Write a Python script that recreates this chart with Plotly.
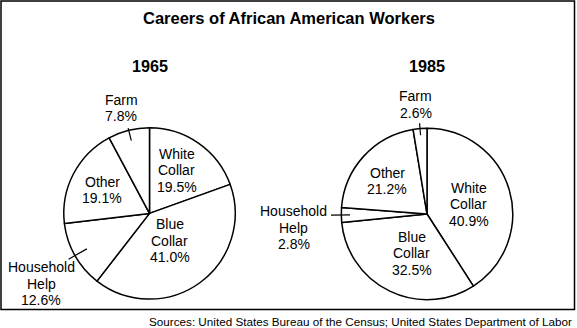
import math
import plotly.graph_objects as go

# ---- data ----
categories = ["White Collar", "Blue Collar", "Household Help", "Other", "Farm"]
label_lines = [["White", "Collar"], ["Blue", "Collar"], ["Household", "Help"], ["Other"], ["Farm"]]
years = ["1965", "1985"]
values_1965 = [19.5, 41.0, 12.6, 19.1, 7.8]
values_1985 = [40.9, 32.5, 2.8, 21.2, 2.6]
title_text = "Careers of African American Workers"
source_text = "Sources: United States Bureau of the Census; United States Department of Labor"

# ---- style / layout ----
W, H = 577, 328
FONT = "Liberation Sans, Arial, Helvetica, sans-serif"
pie_centers = [(149.5, 213.4), (427.0, 214.0)]
R = 85.7
label_dist = [[51, 34, 129, 53, 109], [43, 42, 134, 51.5, 110]]
label_dang = [[-2.8, -1.0, -3.6, -1.2, -1.0], [3.5, -4.5, -5.1, -2.6, -1.2]]
leaders = [[None, None, (93, 72), None, (88, 75)], [None, None, (96, 77), None, (91, 79)]]
LINE_H = 16.5
LABEL_SIZE = 14


def px(x):
    return x / W


def py(y):
    return 1 - y / H


fig = go.Figure()
annotations = []
shapes = []

for i, vals in enumerate([values_1965, values_1985]):
    cx, cy = pie_centers[i]
    fig.add_trace(go.Pie(
        labels=categories, values=vals, sort=False, direction="clockwise", rotation=0,
        textinfo="none", hoverinfo="label+percent", showlegend=False,
        marker=dict(colors=["white"] * len(vals), line=dict(color="black", width=1.5)),
        domain=dict(x=[px(cx - R), px(cx + R)], y=[py(cy + R), py(cy - R)]),
    ))
    # year subtitle
    annotations.append(dict(text="<b>%s</b>" % years[i], x=px(cx), y=py(66.4), xref="paper", yref="paper",
                            showarrow=False, xanchor="center", yanchor="middle",
                            font=dict(family=FONT, size=16.2, color="black")))
    total = sum(vals)
    cum = 0.0
    for j, v in enumerate(vals):
        mid = (cum + v / 2) / total * 360.0
        cum += v
        ang = math.radians(mid + label_dang[i][j])
        d = label_dist[i][j]
        bx = cx + d * math.sin(ang)
        by = cy - d * math.cos(ang)
        lines = label_lines[j] + ["%.1f%%" % v]
        n = len(lines)
        for k, t in enumerate(lines):
            ly = by + (k - (n - 1) / 2) * LINE_H
            annotations.append(dict(text=t, x=px(bx), y=py(ly), xref="paper", yref="paper",
                                    showarrow=False, xanchor="center", yanchor="middle",
                                    font=dict(family=FONT, size=LABEL_SIZE, color="black")))
        if leaders[i][j] is not None:
            r_out, r_in = leaders[i][j]
            a = math.radians(mid)
            shapes.append(dict(type="line", xref="paper", yref="paper",
                               x0=px(cx + r_out * math.sin(a)), y0=py(cy - r_out * math.cos(a)),
                               x1=px(cx + r_in * math.sin(a)), y1=py(cy - r_in * math.cos(a)),
                               line=dict(color="black", width=1.2)))

annotations.append(dict(text="<b>%s</b>" % title_text, x=px(288.5), y=py(18.4), xref="paper", yref="paper",
                        showarrow=False, xanchor="center", yanchor="middle",
                        font=dict(family=FONT, size=16.5, color="black")))
annotations.append(dict(text=source_text, x=px(573.5), y=py(321.5), xref="paper", yref="paper",
                        showarrow=False, xanchor="right", yanchor="middle",
                        font=dict(family=FONT, size=11.7, color="black")))

shapes.append(dict(type="rect", xref="paper", yref="paper",
                   x0=px(1), x1=px(574.5), y0=py(309.5), y1=py(1),
                   line=dict(color="black", width=1.5)))

fig.update_layout(
    width=W, height=H, autosize=False,
    margin=dict(l=0, r=0, t=0, b=0),
    paper_bgcolor="white", plot_bgcolor="white",
    annotations=annotations, shapes=shapes,
)

fig.write_html("out.html")
